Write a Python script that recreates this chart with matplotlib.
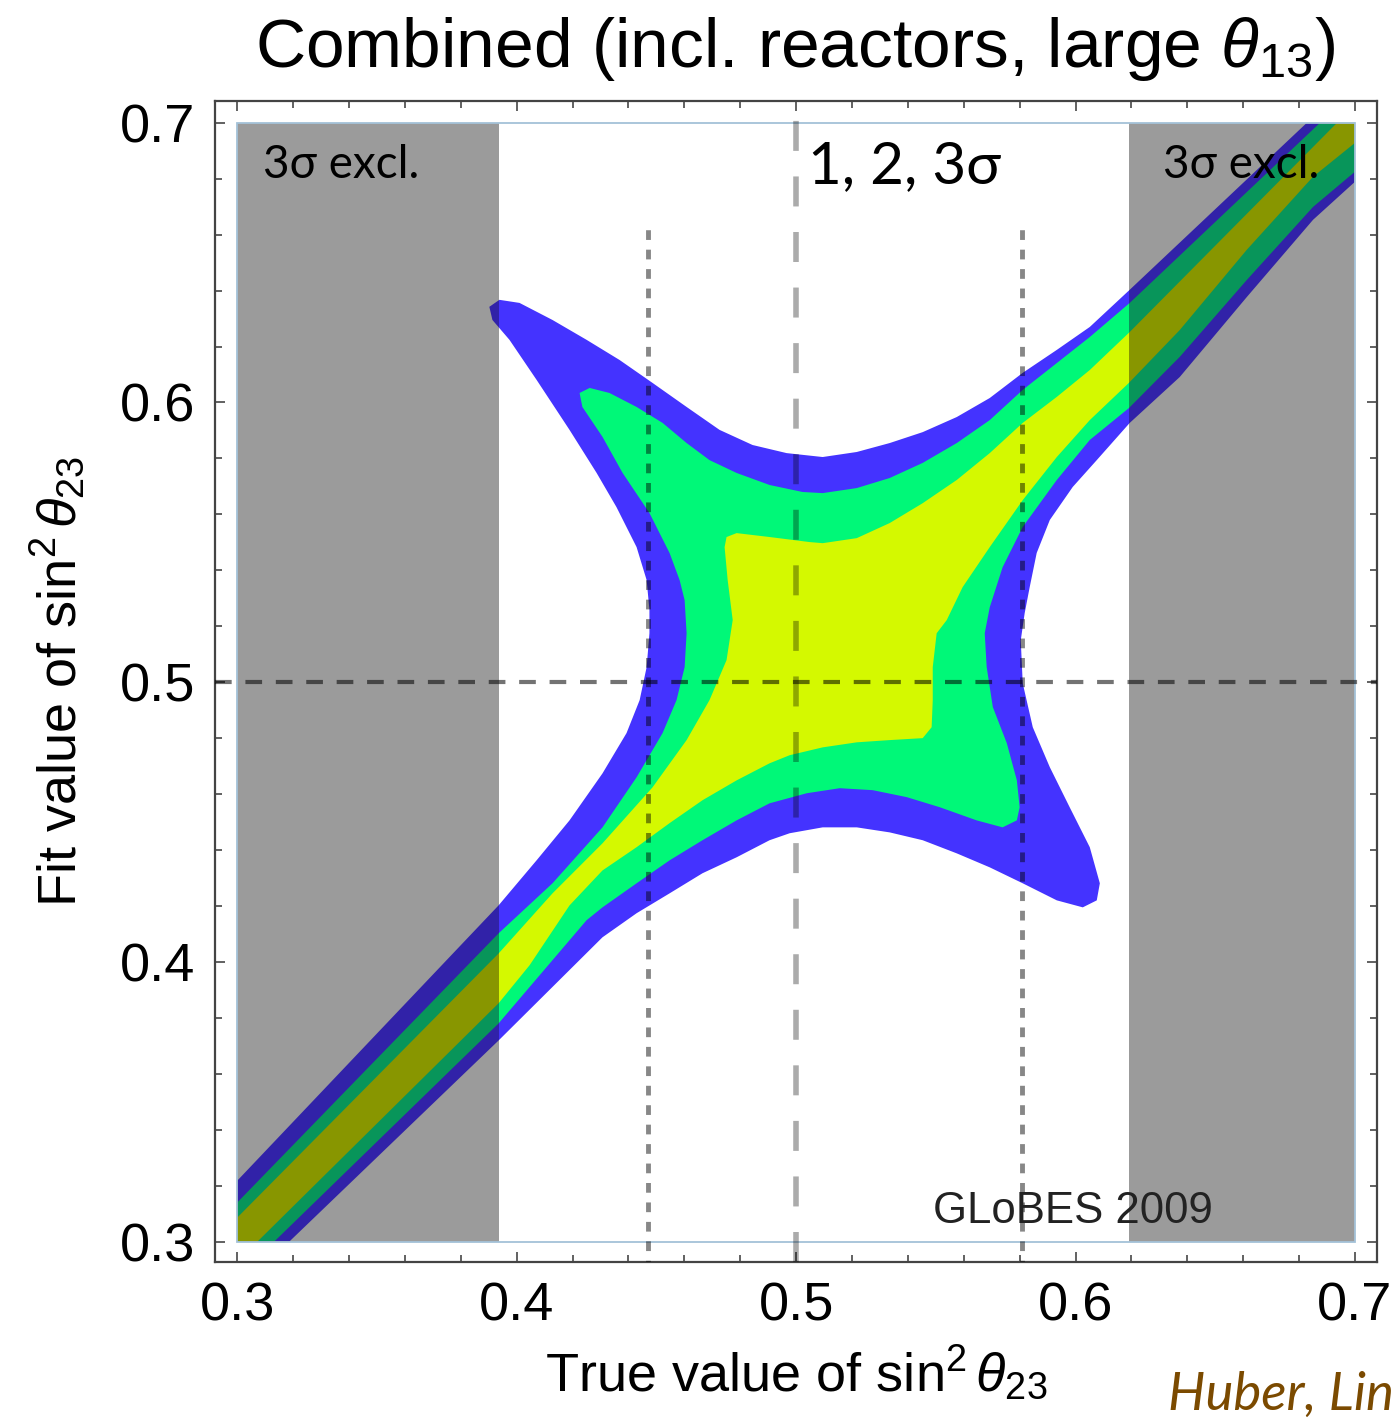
import matplotlib
matplotlib.use('Agg')
import matplotlib.pyplot as plt
from matplotlib.patches import Rectangle
from matplotlib.ticker import MultipleLocator

# Kontur-Grenzen (true / fit sin^2 theta23)
blue_x = [0.3, 0.3, 0.3935, 0.4071, 0.4189, 0.4307, 0.4393, 0.4440, 0.4465, 0.4475,
          0.4475, 0.4465, 0.4429, 0.4357, 0.4286, 0.4189, 0.4071, 0.3974, 0.3913, 0.3902,
          0.3938, 0.4010, 0.4128, 0.4250, 0.4368, 0.4486, 0.4608, 0.4726, 0.4844, 0.4966,
          0.5095, 0.5217, 0.5335, 0.5453, 0.5575, 0.5693, 0.5811, 0.5933, 0.6051, 0.6194,
          0.6828, 0.7, 0.7, 0.6850, 0.6613, 0.6373, 0.6194, 0.6076, 0.5990, 0.5908,
          0.5861, 0.5836, 0.5818, 0.5804, 0.5811, 0.5847, 0.5908, 0.5979, 0.6051, 0.6087,
          0.6076, 0.6026, 0.5933, 0.5811, 0.5693, 0.5575, 0.5453, 0.5335, 0.5217, 0.5095,
          0.4977, 0.4905, 0.4787, 0.4665, 0.4547, 0.4429, 0.4307, 0.3935, 0.3186]
blue_y = [0.3, 0.3218, 0.4202, 0.4363, 0.4506, 0.4674, 0.4818, 0.4936, 0.5054, 0.5175,
          0.5258, 0.5365, 0.5483, 0.5626, 0.5748, 0.5902, 0.6081, 0.6224, 0.6295, 0.6342,
          0.6367, 0.6356, 0.6295, 0.6224, 0.6152, 0.6070, 0.5984, 0.5902, 0.5848, 0.5819,
          0.5805, 0.5823, 0.5855, 0.5894, 0.5948, 0.6016, 0.6106, 0.6188, 0.6270, 0.6403,
          0.7, 0.7, 0.6789, 0.6653, 0.6377, 0.6091, 0.5927, 0.5794, 0.5698, 0.5580,
          0.5462, 0.5340, 0.5247, 0.5150, 0.4996, 0.4839, 0.4696, 0.4553, 0.4410, 0.4281,
          0.4220, 0.4195, 0.4220, 0.4281, 0.4338, 0.4388, 0.4435, 0.4463, 0.4481, 0.4481,
          0.4460, 0.4435, 0.4374, 0.4317, 0.4245, 0.4174, 0.4088, 0.3719, 0.3]

green_x = [0.3, 0.3, 0.3935, 0.4128, 0.4307, 0.4429, 0.4522, 0.4572, 0.4601, 0.4608,
           0.4601, 0.4583, 0.4547, 0.4475, 0.4379, 0.4307, 0.4235, 0.4225, 0.4261, 0.4332,
           0.4429, 0.4522, 0.4608, 0.4690, 0.4787, 0.4905, 0.5023, 0.5095, 0.5217, 0.5335,
           0.5453, 0.5575, 0.5693, 0.5811, 0.5933, 0.6051, 0.6194, 0.6875, 0.7, 0.7,
           0.6850, 0.6613, 0.6373, 0.6191, 0.6051, 0.5933, 0.5811, 0.5739, 0.5693, 0.5675,
           0.5682, 0.5704, 0.5754, 0.5790, 0.5800, 0.5790, 0.5739, 0.5646, 0.5514, 0.5396,
           0.5274, 0.5156, 0.5038, 0.4905, 0.4787, 0.4665, 0.4547, 0.4429, 0.4307, 0.4250,
           0.3935, 0.3132]
green_y = [0.3, 0.3140, 0.4102, 0.4281, 0.4481, 0.4660, 0.4818, 0.4936, 0.5054, 0.5175,
           0.5293, 0.5365, 0.5462, 0.5605, 0.5748, 0.5877, 0.5984, 0.6034, 0.6052, 0.6034,
           0.5984, 0.5927, 0.5855, 0.5794, 0.5748, 0.5705, 0.5680, 0.5676, 0.5694, 0.5730,
           0.5784, 0.5855, 0.5937, 0.6045, 0.6141, 0.6234, 0.6356, 0.7, 0.7, 0.6825,
           0.6699, 0.6438, 0.6163, 0.5980, 0.5866, 0.5723, 0.5555, 0.5411, 0.5268, 0.5175,
           0.5054, 0.4911, 0.4782, 0.4649, 0.4553, 0.4506, 0.4481, 0.4506, 0.4553, 0.4589,
           0.4614, 0.4621, 0.4603, 0.4567, 0.4506, 0.4435, 0.4363, 0.4281, 0.4195, 0.4149,
           0.3780, 0.3]

yellow_x = [0.3, 0.3, 0.3935, 0.4128, 0.4307, 0.4486, 0.4608, 0.4690, 0.4751, 0.4773,
            0.4755, 0.4744, 0.4751, 0.4787, 0.4905, 0.5048, 0.5095, 0.5217, 0.5335, 0.5453,
            0.5575, 0.5693, 0.5811, 0.5933, 0.6051, 0.6194, 0.6936, 0.7, 0.7, 0.6850,
            0.6613, 0.6373, 0.6191, 0.6051, 0.5933, 0.5811, 0.5693, 0.5596, 0.5539, 0.5503,
            0.5489, 0.5489, 0.5485, 0.5453, 0.5335, 0.5217, 0.5095, 0.4977, 0.4905, 0.4787,
            0.4665, 0.4547, 0.4429, 0.4307, 0.4189, 0.4046, 0.3935, 0.3072]
yellow_y = [0.3, 0.3086, 0.4030, 0.4245, 0.4424, 0.4624, 0.4793, 0.4936, 0.5079, 0.5222,
            0.5365, 0.5483, 0.5519, 0.5533, 0.5519, 0.5501, 0.5497, 0.5515, 0.5569, 0.5640,
            0.5723, 0.5819, 0.5927, 0.6020, 0.6116, 0.6252, 0.7, 0.7, 0.6928, 0.6807,
            0.6546, 0.6259, 0.6070, 0.5937, 0.5805, 0.5651, 0.5483, 0.5340, 0.5222, 0.5175,
            0.5054, 0.4936, 0.4839, 0.4800, 0.4793, 0.4785, 0.4767, 0.4739, 0.4710, 0.4649,
            0.4578, 0.4496, 0.4410, 0.4327, 0.4202, 0.3988, 0.3852, 0.3]

excl_left = (0.3, 0.3935)
excl_right = (0.6191, 0.7)
bound_lo, bound_hi = 0.447, 0.581
bound_top = 0.662
best = 0.5

colors = ['#4433ff', '#00f878', '#d4f900']
colors_dark = ['#3122a8', '#08955a', '#889600']

plt.rcParams['font.family'] = ['Liberation Sans', 'DejaVu Sans']
plt.rcParams['mathtext.fontset'] = 'custom'
plt.rcParams['mathtext.rm'] = 'Liberation Sans'
plt.rcParams['mathtext.it'] = 'Liberation Sans:italic'

fig = plt.figure(figsize=(13.95, 14.18), dpi=100)
ax = fig.add_axes([0.1541, 0.1100, 0.8330, 0.8188])

regions = [(blue_x, blue_y), (green_x, green_y), (yellow_x, yellow_y)]
for (xs, ys), c in zip(regions, colors):
    ax.fill(xs, ys, color=c, lw=0, zorder=1)

# 3 sigma ausgeschlossene Bereiche
for x0, x1 in [excl_left, excl_right]:
    r = Rectangle((x0, 0.3), x1 - x0, 0.4, facecolor='#9b9b9b', lw=0, zorder=2)
    ax.add_patch(r)
    for (xs, ys), c in zip(regions, colors_dark):
        p = ax.fill(xs, ys, color=c, lw=0, zorder=3)[0]
        p.set_clip_path(r)

ax.add_patch(Rectangle((0.3, 0.3), 0.4, 0.4, fill=False, edgecolor='#a4c2d8', lw=1.3, zorder=4))

ax.axvline(best, color='black', alpha=0.33, lw=4, ls=(0, (5.4, 4.6)), zorder=5)
ax.axhline(best, color='black', alpha=0.55, lw=3, ls=(0, (4, 3.3)), zorder=5)
for xb in [bound_lo, bound_hi]:
    ax.vlines(xb, 0.29, bound_top, color='black', alpha=0.47, lw=3.5, linestyles=[(0, (2, 2))], zorder=5)

ax.set_xlim(0.2920, 0.7079)
ax.set_ylim(0.2927, 0.7078)
ax.set_xticks([0.3, 0.4, 0.5, 0.6, 0.7])
ax.set_yticks([0.3, 0.4, 0.5, 0.6, 0.7])
ax.xaxis.set_minor_locator(MultipleLocator(0.02))
ax.yaxis.set_minor_locator(MultipleLocator(0.02))
ax.tick_params(which='both', direction='in', top=True, right=True, color='#555555', width=1.3)
ax.tick_params(which='major', length=7, labelsize=39, pad=14)
ax.tick_params(which='minor', length=5)
for s in ax.spines.values():
    s.set_color('#444444')
    s.set_linewidth(1.6)

ax.set_xlabel(r'True value of sin$^2\,\theta_{23}$', fontsize=39)
ax.set_ylabel(r'Fit value of sin$^2\,\theta_{23}$', fontsize=39)
ax.xaxis.set_label_coords(0.5, -0.07)
ax.yaxis.set_label_coords(-0.11, 0.5)

fig.text(0.570, 1 - 67 / 1418, r'Combined (incl. reactors, large $\theta_{13}$)',
         ha='center', va='baseline', fontsize=50)

gill = ['Lato', 'DejaVu Sans']
ax.text(0.3093, 0.6802, '3σ excl.', family=gill, fontsize=33, va='baseline', zorder=6)
ax.text(0.6314, 0.6802, '3σ excl.', family=gill, fontsize=33, va='baseline', zorder=6)
ax.text(0.5044, 0.6784, '1, 2, 3σ', family=gill, fontsize=42, va='baseline', zorder=6)
ax.text(0.5491, 0.3067, 'GLoBES 2009', fontsize=31.5, va='baseline', color='#222222', zorder=6)
fig.text(1168 / 1395, 1 - 1410 / 1418, 'Huber, Lin', family=gill,
         style='italic', fontsize=38, color='#7b4a00', va='baseline')

fig.savefig('out.png', dpi=100)
